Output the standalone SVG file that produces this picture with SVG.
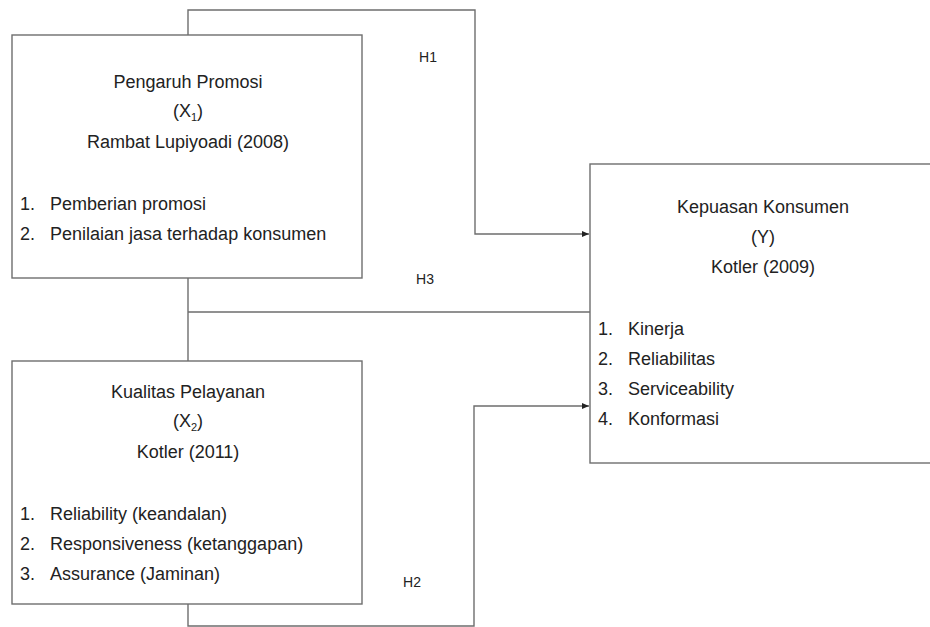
<svg xmlns="http://www.w3.org/2000/svg" width="930" height="627" viewBox="0 0 930 627">
<style>
.box{fill:#fff;stroke:#6e6e6e;stroke-width:1.4}
.ln{fill:none;stroke:#6e6e6e;stroke-width:1.4}
text{font-family:"Liberation Sans",Arial,sans-serif;font-size:18px;fill:#222}
.c{text-anchor:middle}
.h{font-size:14px}
</style>
<defs>
<marker id="ah" markerWidth="8" markerHeight="8" refX="7" refY="4" orient="auto" markerUnits="userSpaceOnUse">
<path d="M0,1 L7,4 L0,7 z" fill="#222"/>
</marker>
</defs>
<g id="connectors">
<path class="ln" d="M188,35 V10 H475 V234 H589" marker-end="url(#ah)"/>
<path class="ln" d="M188,278 V361 M188,312 H590"/>
<path class="ln" d="M188,604 V626 H474 V406 H589" marker-end="url(#ah)"/>
<text class="h" x="428" y="62" text-anchor="middle">H1</text>
<text class="h" x="425" y="284" text-anchor="middle">H3</text>
<text class="h" x="412" y="587" text-anchor="middle">H2</text>
</g>
<g id="x1">
<rect class="box" x="12" y="35" width="350" height="243"/>
<text class="c" x="188" y="88">Pengaruh Promosi</text>
<text class="c" x="188" y="117">(X<tspan font-size="11" dy="4">1</tspan><tspan dy="-4">)</tspan></text>
<text class="c" x="188" y="148">Rambat Lupiyoadi (2008)</text>
<text x="20" y="210">1.</text><text x="50" y="210">Pemberian promosi</text>
<text x="20" y="240">2.</text><text x="50" y="240">Penilaian jasa terhadap konsumen</text>
</g>
<g id="x2">
<rect class="box" x="12" y="361" width="350" height="243"/>
<text class="c" x="188" y="398">Kualitas Pelayanan</text>
<text class="c" x="188" y="427">(X<tspan font-size="11" dy="4">2</tspan><tspan dy="-4">)</tspan></text>
<text class="c" x="188" y="458">Kotler (2011)</text>
<text x="20" y="520">1.</text><text x="50" y="520">Reliability (keandalan)</text>
<text x="20" y="550">2.</text><text x="50" y="550">Responsiveness (ketanggapan)</text>
<text x="20" y="580">3.</text><text x="50" y="580">Assurance (Jaminan)</text>
</g>
<g id="y">
<rect class="box" x="590" y="164" width="346" height="299"/>
<text class="c" x="763" y="213">Kepuasan Konsumen</text>
<text class="c" x="763" y="243">(Y)</text>
<text class="c" x="763" y="273">Kotler (2009)</text>
<text x="598" y="335">1.</text><text x="628" y="335">Kinerja</text>
<text x="598" y="365">2.</text><text x="628" y="365">Reliabilitas</text>
<text x="598" y="395">3.</text><text x="628" y="395">Serviceability</text>
<text x="598" y="425">4.</text><text x="628" y="425">Konformasi</text>
</g>
</svg>
